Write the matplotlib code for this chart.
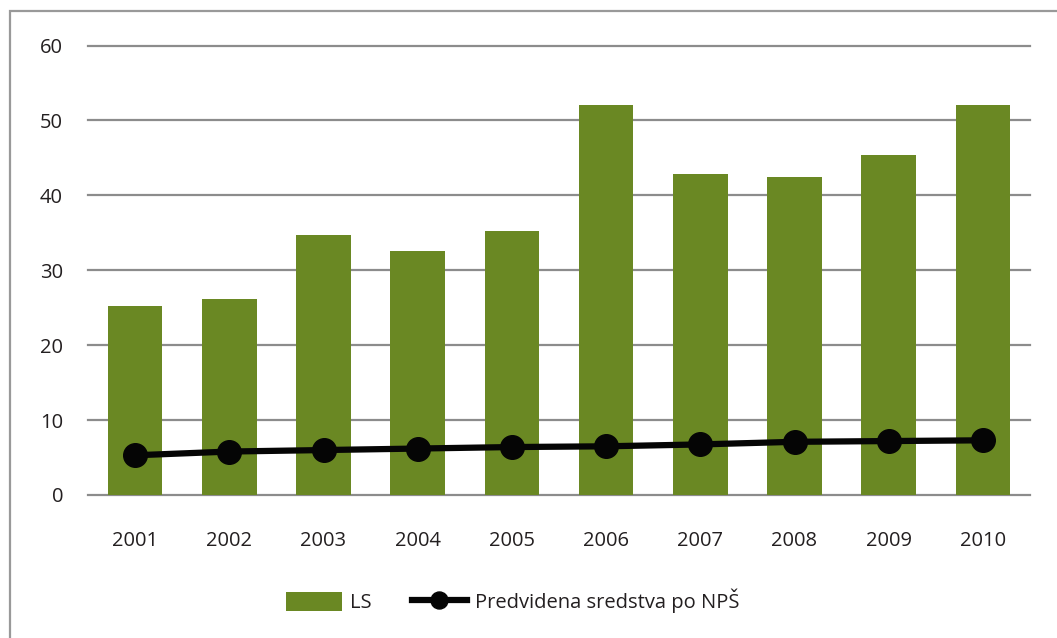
import matplotlib.pyplot as plt
import matplotlib as mpl
from matplotlib.patches import Rectangle
import numpy as np

years = ['2001', '2002', '2003', '2004', '2005', '2006', '2007', '2008', '2009', '2010']
ls_values = [25.2, 26.1, 34.7, 32.6, 35.3, 52.1, 42.9, 42.4, 45.4, 52.1]
nps_values = [5.3, 5.8, 6.0, 6.2, 6.4, 6.5, 6.75, 7.1, 7.2, 7.3]

green = '#6a8823'
text_col = '#231f20'
grid_col = '#8c8c8c'

plt.rcParams['font.family'] = ['Open Sans', 'DejaVu Sans']

W, H = 1057, 638
fig = plt.figure(figsize=(W / 100, H / 100), dpi=100)
ax = fig.add_axes([88 / W, 143 / H, 942 / W, 449.5 / H])

x = np.arange(len(years))
bars = ax.bar(x, ls_values, width=0.58, color=green, edgecolor='none', zorder=2, label='LS')
line, = ax.plot(x, nps_values, color='#050505', linewidth=4.5, marker='o', markersize=17,
                zorder=3, label='Predvidena sredstva po NPŠ')

ax.set_xlim(-0.5, len(years) - 0.5)
ax.set_ylim(0, 60)
ax.set_yticks(range(0, 61, 10))
ax.set_xticks(x, years)
ax.grid(axis='y', color=grid_col, linewidth=1.6, zorder=1)
for gl in ax.yaxis.get_gridlines():
    gl.set_clip_on(False)
ax.set_axisbelow(True)
for s in ax.spines.values():
    s.set_visible(False)
ax.tick_params(axis='both', length=0, labelsize=14.5, labelcolor=text_col)
ax.tick_params(axis='y', pad=18)
ax.tick_params(axis='x', pad=26)

# outer frame (only top and left visible in the original)
fig.patches.append(Rectangle((10 / W, -0.1), 1.2, (H - 11) / H + 0.1, transform=fig.transFigure,
                             fill=False, edgecolor='#999999', linewidth=1.6))

fig.legend([bars, line], ['LS', 'Predvidena sredstva po NPŠ'], loc='center',
           bbox_to_anchor=(513 / W, 1 - 601 / H), ncol=2, frameon=False,
           fontsize=14.5, handlelength=2.75, handleheight=1.1, columnspacing=2.0,
           handletextpad=0.4, markerscale=0.72, labelcolor=text_col)

fig.savefig('out.png', dpi=100)
